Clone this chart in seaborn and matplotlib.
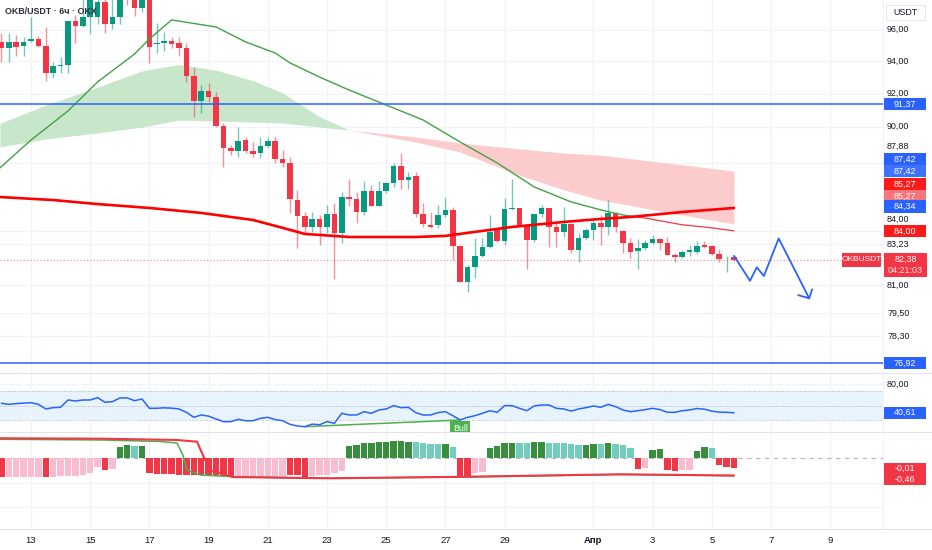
import numpy as np
import matplotlib
matplotlib.use("Agg")
import matplotlib.pyplot as plt
import seaborn as sns
from matplotlib.patches import Rectangle
from matplotlib.lines import Line2D
from matplotlib.ticker import FixedLocator, NullLocator, NullFormatter

# ---------------- data ----------------
opens = [95.22, 94.84, 95.22, 94.96, 95.28, 95.41, 94.96, 93.27, 93.71, 93.77,
         96.56, 96.23, 96.81, 96.81, 97.77, 96.36, 96.81, 98.60, 98.00, 97.39,
         98.00, 95.09, 95.15, 95.28, 95.15, 94.84, 93.08, 91.55, 92.16, 91.80,
         90.04, 88.73, 88.56, 89.21, 88.56, 88.44, 88.85, 89.15, 88.09, 87.86,
         85.72, 84.82, 84.20, 84.65, 84.20, 84.93, 83.87, 85.89, 85.78, 85.04,
         86.24, 85.38, 86.24, 86.71, 87.69, 86.88, 87.10, 84.93, 84.32, 84.32,
         84.87, 85.16, 83.15, 81.19, 82.00, 82.60, 83.09, 84.03, 83.42, 85.21,
         85.27, 84.32, 83.48, 84.93, 85.27, 84.20, 83.92, 84.37, 82.93, 83.59,
         84.03, 84.43, 84.20, 84.99, 83.98, 83.31, 82.87, 83.04, 83.31, 83.53,
         83.31, 82.66, 82.55, 82.82, 82.82, 83.20, 83.15, 82.71, 82.46, 82.55]
highs = [95.79, 95.79, 95.66, 95.54, 96.81, 95.60, 96.17, 93.96, 94.27, 96.56,
         96.94, 97.95, 98.60, 98.30, 98.40, 98.00, 98.50, 99.00, 98.40, 98.50,
         98.50, 96.43, 95.86, 95.54, 95.54, 95.15, 93.65, 92.53, 92.65, 92.10,
         90.22, 88.91, 89.98, 89.39, 89.09, 89.39, 89.39, 89.39, 88.62, 88.21,
         86.30, 85.04, 85.04, 84.87, 85.44, 85.55, 86.18, 86.94, 86.18, 86.82,
         86.59, 86.82, 86.76, 87.86, 88.44, 87.34, 87.34, 85.55, 85.04, 85.44,
         85.89, 85.33, 83.20, 82.11, 83.59, 83.59, 84.87, 84.03, 85.83, 86.94,
         85.27, 84.32, 84.99, 85.44, 85.27, 84.43, 85.33, 84.43, 83.87, 84.15,
         84.59, 84.87, 85.72, 85.04, 84.03, 83.59, 83.53, 83.48, 83.75, 83.59,
         83.64, 82.77, 82.93, 83.20, 83.42, 83.42, 83.20, 82.99, 82.60, 82.60]
lows = [93.96, 93.96, 94.33, 94.33, 95.22, 94.90, 92.78, 92.96, 93.27, 93.27,
        95.15, 96.17, 95.73, 96.36, 95.79, 96.04, 96.36, 97.60, 96.87, 97.13,
        93.90, 94.52, 94.65, 94.84, 94.33, 92.72, 90.58, 90.82, 91.49, 89.98,
        87.63, 88.32, 88.21, 88.44, 88.21, 88.15, 88.73, 87.86, 87.63, 84.99,
        83.04, 83.87, 83.92, 83.20, 83.87, 81.35, 83.31, 85.38, 84.43, 84.87,
        85.38, 85.38, 86.12, 86.47, 86.35, 86.35, 84.76, 84.20, 84.15, 84.15,
        84.76, 82.38, 81.15, 80.65, 81.40, 82.55, 83.04, 83.37, 83.20, 85.16,
        84.20, 81.89, 83.37, 84.76, 83.09, 83.09, 83.64, 82.77, 82.27, 83.48,
        83.48, 83.20, 83.75, 83.92, 82.77, 82.49, 81.89, 82.93, 83.26, 82.93,
        82.66, 82.27, 82.49, 82.60, 82.71, 83.04, 82.66, 82.27, 81.73, 82.33]
closes = [94.84, 95.22, 94.90, 95.22, 95.41, 94.96, 93.27, 93.71, 93.77, 96.56,
          96.23, 96.81, 98.20, 97.77, 96.36, 96.81, 98.10, 98.00, 97.39, 98.00,
          94.90, 95.12, 95.28, 95.09, 94.84, 93.08, 91.55, 92.16, 91.80, 90.04,
          88.73, 88.56, 89.15, 88.56, 88.38, 88.85, 89.15, 88.09, 87.86, 85.78,
          84.82, 84.20, 84.65, 84.20, 84.93, 83.87, 85.89, 85.78, 85.04, 86.24,
          85.38, 86.24, 86.71, 87.69, 86.88, 87.05, 84.93, 84.37, 84.20, 84.87,
          85.16, 83.15, 81.19, 82.00, 82.60, 83.09, 83.92, 83.42, 85.21, 85.27,
          84.32, 83.48, 84.93, 85.27, 84.20, 83.92, 84.37, 82.93, 83.59, 84.03,
          84.43, 84.20, 84.99, 84.20, 83.31, 82.82, 83.04, 83.31, 83.53, 83.31,
          82.66, 82.55, 82.82, 82.93, 83.15, 83.09, 82.71, 82.44, 82.49, 82.38]
first_day = 12.0          # 12 March, 6h candles
candle_step = 0.25

fast_ma_days = [11.95, 13.0, 14.25, 15.25, 16.5, 17.0, 17.75, 19.25, 20.25, 21.25, 21.75,
                22.75, 23.75, 25.0, 26.25, 27.5, 28.75, 30.0, 31.25, 32.25, 33.0, 33.75,
                35.0, 36.0, 36.75]
fast_ma = [87.57, 89.21, 90.95, 92.72, 94.46, 95.41, 96.62, 96.17, 95.22, 94.52, 93.90,
           93.02, 92.22, 91.31, 90.40, 89.09, 87.86, 86.47, 85.61, 85.16, 84.87, 84.70,
           84.32, 84.15, 83.98]
slow_ma_days = [11.95, 13.75, 15.25, 17.0, 18.75, 20.5, 21.5, 22.25, 23.75, 26.0, 27.0,
                27.75, 29.25, 31.0, 32.25, 33.25, 35.0, 36.75]
slow_ma = [85.89, 85.72, 85.49, 85.27, 84.99, 84.59, 84.15, 83.81, 83.64, 83.64, 83.70,
           83.87, 84.20, 84.48, 84.65, 84.76, 85.04, 85.27]

cloud_days = [11.95, 13.5, 15.25, 16.75, 18.0, 19.25, 20.5, 21.5, 22.75, 23.75, 26.0,
              27.5, 29.25, 31.0, 32.25, 35.0, 36.75]
cloud_a = [90.2, 91.3, 92.4, 93.4, 93.8, 93.45, 92.8, 92.05, 90.6, 89.8, 89.09,
           88.5, 87.3, 86.3, 85.72, 84.87, 84.37]
cloud_b = [88.8, 89.27, 89.63, 89.98, 90.40, 90.34, 90.28, 90.22, 89.98, 89.8, 89.39,
           89.03, 88.73, 88.44, 88.32, 87.75, 87.39]

level_high = 91.37
level_low = 76.92
last_price = 82.38

proj_days = [36.75, 37.29, 37.52, 37.76, 38.26, 39.29]
proj_prices = [82.60, 81.24, 81.97, 81.50, 83.56, 80.30]
arrow_days = [38.92, 39.29, 39.39]
arrow_prices = [80.47, 80.30, 80.78]

rsi = [53.7, 52.3, 53.3, 53.9, 54.6, 52.3, 45.9, 47.7, 48.2, 58.3,
       56.9, 58.3, 58.3, 61.5, 55.1, 56.0, 61.0, 61.2, 57.3, 59.7,
       46.8, 46.8, 47.5, 47.0, 45.9, 41.3, 34.4, 37.6, 36.0, 32.1,
       28.4, 28.4, 31.6, 29.7, 29.7, 33.0, 34.4, 31.2, 29.7, 24.7,
       22.4, 21.5, 25.0, 24.2, 28.4, 26.1, 39.9, 37.6, 37.6, 42.2,
       39.9, 44.5, 45.9, 50.5, 47.7, 48.2, 40.8, 37.6, 37.6, 40.8,
       42.2, 36.7, 30.7, 34.4, 36.7, 39.9, 43.5, 41.3, 50.5, 50.5,
       46.8, 43.5, 50.0, 51.4, 51.4, 46.8, 45.9, 43.0, 45.9, 47.7,
       50.0, 48.2, 52.3, 49.1, 44.5, 42.2, 43.5, 45.0, 46.8, 45.0,
       41.3, 41.3, 43.5, 44.5, 46.5, 45.6, 43.0, 41.5, 41.3, 40.6]
rsi_div_days = [22.25, 27.5]
rsi_div_vals = [21.5, 30.7]

hist = [-0.019, -0.019, -0.019, -0.019, -0.019, -0.019, -0.019, -0.019, -0.018, -0.018,
        -0.018, -0.017, -0.015, -0.0087, -0.012, -0.0113, 0.0113, 0.013, 0.012, 0.012,
        -0.015, -0.016, -0.016, -0.016, -0.017, -0.017, -0.017, -0.017, -0.018, -0.018,
        -0.018, -0.0187, -0.0187, -0.0187, -0.0187, -0.0187, -0.0187, -0.0187, -0.0187, -0.017,
        -0.017, -0.0187, -0.018, -0.017, -0.017, -0.0153, -0.013, 0.012, 0.013, 0.0147,
        0.0153, 0.0163, 0.0163, 0.017, 0.017, 0.0163, 0.0163, 0.0153, 0.014, 0.014,
        0.014, 0.0113, -0.0187, -0.018, -0.0153, -0.0137, 0.0097, 0.012, 0.0147, 0.0153,
        0.0153, 0.0153, 0.0163, 0.0163, 0.0153, 0.0153, 0.0147, 0.014, 0.013, 0.013,
        0.014, 0.014, 0.0147, 0.014, 0.013, 0.0097, -0.0113, -0.0103, 0.008, 0.0087,
        -0.012, -0.0127, -0.012, -0.012, 0.007, 0.0107, 0.0097, -0.007, -0.0093, -0.0103]
# R = falling below zero, P = rising below zero, G = rising above zero, T = falling above zero
hist_shade = list("RPPPPPRPPP" "PPPPRPGGTG" "RRRRRRRRRR" "RRPPPPPPPR" "RRPPPPPGGG"
                  "GGGGGGTTTT" "GTRRPPGGGG" "TTGGTTTTTG" "GTGTTTRPGG" "RRPPGGTRRR")

sig_red_days = [11.95, 15.33, 17.93, 18.61, 18.85, 19.05, 19.82, 21.41, 23.2, 27.73, 32.9, 36.75]
sig_red = [0.477, 0.467, 0.436, 0.394, 0.0, -0.29, -0.46, -0.477, -0.491, -0.453, -0.394, -0.424]
sig_green_days = [11.95, 15.33, 17.36, 17.93, 18.13, 18.27, 18.71, 19.82, 22.76, 27.73, 32.9, 36.75]
sig_green = [0.453, 0.436, 0.40, 0.363, 0.073, -0.29, -0.411, -0.453, -0.491, -0.46, -0.40, -0.43]

date_ticks = [13, 15, 17, 19, 21, 23, 25, 27, 29, 32, 34, 36, 38, 40]
date_labels = ["13", "15", "17", "19", "21", "23", "25", "27", "29", "Апр", "3", "5", "7", "9"]
price_grid = [96.0, 94.0, 92.0, 90.0, 87.88, 84.0, 83.23, 81.0, 79.5, 78.3]
price_tick_text = ["96,00", "94,00", "92,00", "90,00", "87,88", "84,00", "83,23", "81,00", "79,50", "78,30"]
price_tick_shift = [0, 0, 0, 0, -16.6, -11.5, 0, 0, 0, 0]

# ---------------- style ----------------
sns.set_theme(style="white")
plt.rcParams['font.family'] = ['Liberation Sans', 'DejaVu Sans']

W, H = 932, 550
PLOT_R = 883
UP, DN = '#089981', '#f23645'
BLUE = '#2962ff'
GRID = '#f0f3fa'
TXT = '#131722'
FS = 6.4

fig = plt.figure(figsize=(W / 100, H / 100), dpi=100)
fig.patch.set_facecolor('white')

x_lo = first_day - 1.4 / 29.6
x_hi = first_day + (PLOT_R - 1.4) / 29.6


def pane(top, bot):
    a = fig.add_axes([0, 1 - bot / H, PLOT_R / W, (bot - top) / H])
    a.set_facecolor('white')
    for s in a.spines.values():
        s.set_visible(False)
    a.set_xlim(x_lo, x_hi)
    a.set_xticks(date_ticks)
    a.grid(True, axis='both', color=GRID, lw=0.9)
    a.tick_params(length=0, labelleft=False, labelbottom=False, left=False, bottom=False)
    a.set_xlabel('')
    a.set_ylabel('')
    return a


ax = pane(0, 373)
axr = pane(373, 432)
axm = pane(432, 528)

# ---------------- main pane ----------------
ax.set_yscale('log')
ax.set_ylim(76.41, 97.91)
ax.yaxis.set_major_locator(FixedLocator(price_grid))
ax.yaxis.set_minor_locator(NullLocator())
ax.yaxis.set_major_formatter(NullFormatter())
ax.yaxis.set_minor_formatter(NullFormatter())

days = first_day + candle_step * np.arange(len(closes))
o, h, l, c = map(np.array, (opens, highs, lows, closes))

ca, cb, cd = np.array(cloud_a), np.array(cloud_b), np.array(cloud_days)
ax.fill_between(cd, ca, cb, where=ca >= cb, interpolate=True, color='#c8e6c9', lw=0, zorder=1)
ax.fill_between(cd, ca, cb, where=ca <= cb, interpolate=True, color='#fccbcc', lw=0, zorder=1)

colors = np.where(c >= o, UP, DN)
ax.vlines(days, l, h, colors=colors, lw=1.0, alpha=0.55, zorder=3)
ax.bar(days, np.maximum(np.abs(c - o), 0.035), bottom=np.minimum(o, c), width=0.19,
       color=colors, linewidth=0, zorder=4)

# fast MA: green while above slow MA, red after it crosses below
fd, fv = np.array(fast_ma_days), np.array(fast_ma)
diff = fv - np.interp(fd, slow_ma_days, slow_ma)
k = int(np.argmax(diff < 0))
t = diff[k - 1] / (diff[k - 1] - diff[k])
xc = fd[k - 1] + t * (fd[k] - fd[k - 1])
yc = fv[k - 1] + t * (fv[k] - fv[k - 1])
sns.lineplot(x=np.r_[fd[:k], xc], y=np.r_[fv[:k], yc], ax=ax, color='#43a047', linewidth=1.0, zorder=5)
sns.lineplot(x=np.r_[xc, fd[k:]], y=np.r_[yc, fv[k:]], ax=ax, color='#f23645', linewidth=0.9, zorder=5)
sns.lineplot(x=slow_ma_days, y=slow_ma, ax=ax, color='#ff0000', linewidth=1.9, zorder=5)

ax.axhline(level_high, color=BLUE, lw=1.1, zorder=6)
ax.axhline(level_low, color=BLUE, lw=1.1, zorder=6)
ax.axhline(last_price, color='#f23645', lw=0.8, ls=(0, (1, 2)), alpha=0.6, zorder=2)

sns.lineplot(x=proj_days, y=proj_prices, ax=ax, sort=False, color='#2962ff', linewidth=1.3, zorder=7)
sns.lineplot(x=arrow_days, y=arrow_prices, ax=ax, sort=False, color='#2962ff', linewidth=1.3, zorder=7)
ax.set_xlim(x_lo, x_hi)
ax.set_ylim(76.41, 97.91)

# ---------------- RSI pane ----------------
axr.set_ylim(14.14, 95.5)
axr.set_yticks([80])
axr.axhspan(30, 70, color='#2196f3', alpha=0.1, lw=0, zorder=0)
for v in (70, 50, 30):
    axr.axhline(v, color='#9598a1', lw=0.7, ls=(0, (1, 1.5)), alpha=0.7, zorder=1)
sns.lineplot(x=days, y=rsi, ax=axr, color='#2962ff', linewidth=1.1, zorder=3)
sns.lineplot(x=rsi_div_days, y=rsi_div_vals, ax=axr, color='#4caf50', linewidth=1.1, zorder=2)
axr.annotate('Bull', xy=(rsi_div_days[1], rsi_div_vals[1]), xytext=(0, -4),
             textcoords='offset pixels', ha='center', va='top', fontsize=FS, color='white',
             bbox=dict(boxstyle='square,pad=0.3', fc='#4caf50', ec='none'), zorder=4,
             annotation_clip=False, clip_on=True)
axr.set_xlim(x_lo, x_hi)
axr.set_ylim(14.14, 95.5)

# ---------------- momentum pane ----------------
axm.set_ylim(-0.070, 0.026)
axm.set_yticks([-0.025, -0.049])
axm.axhline(0, color='#b2b5be', lw=0.8, ls=(0, (4, 4)), zorder=1)
shade_col = {'R': '#f23645', 'P': '#f8bbd0', 'G': '#388e3c', 'T': '#72cdbf'}
axm.bar(days, hist, width=0.22, color=[shade_col[s] for s in hist_shade], linewidth=0, zorder=2)
axm2 = axm.twinx()
for s in axm2.spines.values():
    s.set_visible(False)
axm2.set_ylim(-1.694, 0.629)
axm2.set_yticks([])
axm2.tick_params(length=0, labelright=False, right=False)
sns.lineplot(x=sig_green_days, y=sig_green, ax=axm2, color='#4caf50', linewidth=1.1, zorder=3)
sns.lineplot(x=sig_red_days, y=sig_red, ax=axm2, color='#f23645', linewidth=1.5, zorder=4)
axm2.set_ylabel('')
axm2.set_xlim(x_lo, x_hi)
axm2.set_ylim(-1.694, 0.629)

axm.tick_params(labelbottom=True, pad=6, labelsize=FS + 0.4, labelcolor=TXT)
axm.set_xticklabels(date_labels)
for lab in axm.get_xticklabels():
    if lab.get_text() == 'Апр':
        lab.set_fontweight('bold')

# ---------------- separators ----------------
for yy in (373, 432, 529):
    fig.add_artist(Line2D([0, 1], [1 - yy / H] * 2, color='#e0e3eb', lw=0.8, transform=fig.transFigure))
fig.add_artist(Line2D([PLOT_R / W] * 2, [1 - 529 / H, 1], color='#eef0f4', lw=0.6, transform=fig.transFigure))


# ---------------- right scale labels ----------------
def ypx(axis, val):
    return H - axis.transData.transform((20.0, val))[1]


def tick_text(py, text, color=TXT):
    fig.text(887 / W, 1 - py / H, text, ha='left', va='center', fontsize=FS, color=color)


def box_label(py, text, bg, x0=884, w=42, hh=12.5):
    fig.add_artist(Rectangle((x0 / W, 1 - (py + hh / 2) / H), w / W, hh / H,
                             transform=fig.transFigure, facecolor=bg, edgecolor='none'))
    fig.text((x0 + w / 2) / W, 1 - py / H, text, ha='center', va='center', fontsize=FS, color='white')


for v, txt, sh in zip(price_grid, price_tick_text, price_tick_shift):
    tick_text(ypx(ax, v) + sh, txt)

for v, txt, bg, sh in [(level_high, '91,37', BLUE, 0),
                       (cloud_b[-1], '87,42', BLUE, -12),
                       (cloud_b[-1], '87,42', '#3f73ff', 0),
                       (slow_ma[-1], '85,27', '#ff1a1a', -24),
                       (slow_ma[-1], '85,27', '#f6767b', -12),
                       (cloud_a[-1], '84,34', BLUE, -17.5),
                       (fast_ma[-1], '84,00', '#ff1a1a', 0),
                       (level_low, '76,92', BLUE, 0)]:
    box_label(ypx(ax, v) + sh, txt, bg)

# last price
pyl = ypx(ax, last_price)
fig.add_artist(Rectangle((884 / W, 1 - (pyl + 17) / H), 43 / W, 24 / H,
                         transform=fig.transFigure, facecolor='#f23645', edgecolor='none'))
fig.text(905.5 / W, 1 - (pyl - 0.5) / H, '82,38', ha='center', va='center', fontsize=FS, color='white')
fig.text(905.5 / W, 1 - (pyl + 10.5) / H, '04:21:03', ha='center', va='center', fontsize=FS, color='#ffe5e7')
fig.add_artist(Rectangle((842 / W, 1 - (pyl + 7) / H), 39 / W, 14 / H,
                         transform=fig.transFigure, facecolor='#f23645', edgecolor='none'))
fig.text(861.5 / W, 1 - pyl / H, 'OKBUSDT', ha='center', va='center', fontsize=6.0, color='white')

# currency box
fig.add_artist(Rectangle((886 / W, 1 - 20 / H), 39 / W, 15 / H, transform=fig.transFigure,
                         facecolor='white', edgecolor='#e0e3eb', lw=0.6))
fig.text(905.5 / W, 1 - 12.5 / H, 'USDT', ha='center', va='center', fontsize=FS, color=TXT)

# RSI & momentum labels
tick_text(ypx(axr, 80), '80,00')
box_label(ypx(axr, rsi[-1]), '40,61', BLUE, hh=11.5)
box_label(ypx(axm, hist[-1]), '-0,01', '#f23645', hh=11)
box_label(ypx(axm, hist[-1]) + 11, '-0,46', '#f23645', hh=11)

# title
fig.text(5 / W, 1 - 12 / H, 'OKB/USDT · 6ч · OKX', ha='left', va='center', fontsize=6.4,
         color='#2a2e39', fontweight='bold')

fig.savefig('out.png', dpi=100, facecolor='white')
